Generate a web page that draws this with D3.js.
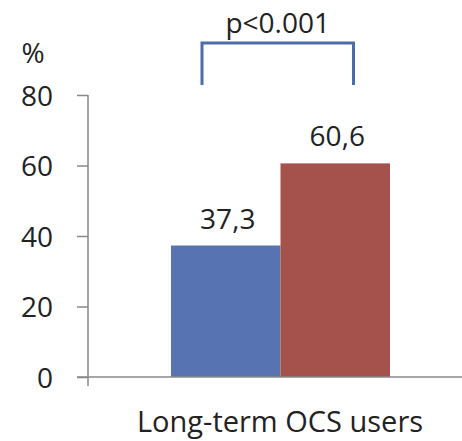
<!DOCTYPE html>
<html><head><meta charset="utf-8">
<script src="https://cdn.jsdelivr.net/npm/d3@7"></script>
<style>body{margin:0;background:#fff}svg{display:block}text{font-family:"Open Sans",sans-serif;fill:#222}</style>
</head><body>
<script>
const category = "Long-term OCS users";
const series = ["Group A", "Group B"];
const values = [37.3, 60.6];
const valueLabels = ["37,3", "60,6"];
const colors = ["#5773b1", "#a4524b"];
const yTicks = [0, 20, 40, 60, 80];
const pLabel = "p<0.001";
const yUnit = "%";

const W = 462, H = 441;
const svg = d3.select("body").append("svg").attr("width", W).attr("height", H);

const y = d3.scaleLinear().domain([0, 80]).range([377, 95]);
const x = d3.scaleBand().domain(series).range([171, 390]).padding(0);

// bars
svg.selectAll("rect.bar").data(series).enter().append("rect")
  .attr("x", d => x(d)).attr("width", x.bandwidth())
  .attr("y", (d, i) => y(values[i])).attr("height", (d, i) => y(0) - y(values[i]))
  .attr("fill", (d, i) => colors[i]);

// y axis
const yAxis = d3.axisLeft(y).tickValues(yTicks).tickSize(11).tickPadding(24);
const gy = svg.append("g").attr("transform", "translate(88,0)").call(yAxis);
gy.select(".domain").attr("stroke", "#888").attr("stroke-width", 1.5).attr("d", "M0,95V386");
gy.selectAll(".tick line").attr("stroke", "#888").attr("stroke-width", 1.5);
gy.selectAll(".tick text").style("font-size", "28px").attr("fill", "#222").attr("dy", "0.36em");

// x axis baseline
svg.append("line").attr("x1", 77).attr("x2", W).attr("y1", y(0)).attr("y2", y(0))
  .attr("stroke", "#888").attr("stroke-width", 1.5);

// value labels
svg.selectAll("text.val").data(series).enter().append("text")
  .attr("x", d => x(d) + x.bandwidth() / 2 + 2)
  .attr("y", (d, i) => y(values[i]) - 17)
  .attr("text-anchor", "middle").style("font-size", "28px")
  .text((d, i) => valueLabels[i]);

// unit
svg.append("text").attr("x", 33).attr("y", 63).attr("text-anchor", "middle").style("font-size", "28px").text(yUnit);

// category label
svg.append("text").attr("x", 280).attr("y", 432).attr("text-anchor", "middle").style("font-size", "29px").text(category);

// significance bracket
const bx1 = x(series[0]) + 31, bx2 = x(series[1]) + 73;
svg.append("path").attr("d", `M${bx1},85V43H${bx2}V85`).attr("fill", "none")
  .attr("stroke", "#4e6ca8").attr("stroke-width", 3);
svg.append("text").attr("x", (bx1 + bx2) / 2).attr("y", 33).attr("text-anchor", "middle").style("font-size", "28px").text(pLabel);
</script>
</body></html>
